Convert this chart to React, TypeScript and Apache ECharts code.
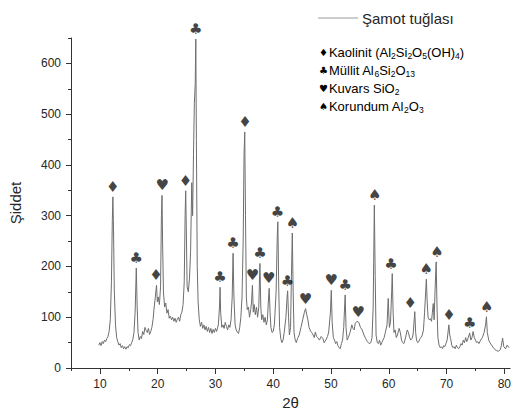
import React, { useEffect, useRef } from "react";
import * as echarts from "echarts";

// XRD pattern of Şamot tuğlası: [2θ, intensity]
const pattern: [number, number][] = [
  [9.8, 45], [10.0, 50], [10.2, 44], [10.4, 52], [10.6, 48], [10.8, 55], [11.0, 52], [11.2, 58], [11.4, 62], [11.6, 72],
  [11.8, 95], [12.0, 170], [12.15, 290], [12.25, 337], [12.35, 280], [12.5, 150], [12.7, 85], [12.9, 60], [13.1, 52],
  [13.3, 45], [13.5, 48], [13.7, 40], [13.9, 44], [14.1, 38], [14.3, 42], [14.5, 37], [14.7, 42], [14.9, 40], [15.1, 46],
  [15.3, 44], [15.5, 50], [15.7, 56], [15.9, 70], [16.1, 110], [16.3, 197], [16.45, 120], [16.6, 70], [16.8, 55],
  [17.0, 62], [17.2, 58], [17.4, 72], [17.6, 66], [17.8, 80], [18.0, 74], [18.2, 70], [18.4, 78], [18.6, 66], [18.8, 72],
  [19.0, 80], [19.2, 95], [19.4, 120], [19.6, 140], [19.8, 163], [19.95, 130], [20.1, 140], [20.3, 125], [20.5, 160],
  [20.65, 300], [20.75, 340], [20.85, 250], [21.0, 150], [21.2, 120], [21.4, 128], [21.6, 108], [21.8, 115], [22.0, 98],
  [22.2, 102], [22.4, 95], [22.6, 100], [22.8, 92], [23.0, 98], [23.2, 90], [23.4, 96], [23.6, 100], [23.8, 92],
  [24.0, 105], [24.2, 110], [24.4, 125], [24.6, 170], [24.75, 300], [24.85, 349], [24.95, 280], [25.1, 160], [25.3, 150],
  [25.5, 175], [25.7, 230], [25.9, 365], [26.05, 300], [26.2, 420], [26.35, 521], [26.5, 560], [26.6, 648], [26.7, 450],
  [26.85, 200], [27.0, 130], [27.2, 95], [27.4, 82], [27.6, 90], [27.8, 78], [28.0, 85], [28.2, 75], [28.4, 82],
  [28.6, 72], [28.8, 80], [29.0, 70], [29.2, 78], [29.4, 68], [29.6, 76], [29.8, 70], [30.0, 78], [30.2, 72], [30.5, 85],
  [30.7, 120], [30.8, 159], [30.9, 110], [31.1, 80], [31.3, 85], [31.5, 78], [31.7, 90], [31.9, 82], [32.1, 75],
  [32.3, 85], [32.5, 80], [32.7, 95], [32.9, 140], [33.05, 226], [33.2, 140], [33.4, 85], [33.6, 75], [33.8, 70],
  [34.0, 68], [34.2, 80], [34.4, 100], [34.6, 140], [34.8, 250], [34.95, 420], [35.07, 465], [35.2, 300], [35.35, 140],
  [35.5, 115], [35.7, 120], [35.9, 100], [36.1, 115], [36.25, 130], [36.4, 163], [36.55, 110], [36.7, 125], [36.9, 105],
  [37.1, 120], [37.3, 100], [37.5, 120], [37.7, 206], [37.85, 120], [38.0, 95], [38.2, 105], [38.4, 90], [38.6, 100],
  [38.8, 85], [39.0, 95], [39.15, 130], [39.3, 157], [39.45, 110], [39.6, 80], [39.8, 70], [40.0, 72], [40.2, 85],
  [40.5, 150], [40.7, 260], [40.8, 288], [40.95, 160], [41.1, 80], [41.3, 58], [41.5, 50], [41.7, 55], [41.9, 70],
  [42.2, 100], [42.4, 140], [42.5, 152], [42.65, 100], [42.8, 65], [43.0, 80], [43.15, 180], [43.3, 266], [43.45, 150],
  [43.6, 70], [43.8, 55], [44.0, 50], [44.2, 58], [44.5, 65], [44.8, 80], [45.1, 95], [45.4, 110], [45.6, 117],
  [45.8, 105], [46.0, 95], [46.2, 80], [46.5, 72], [46.8, 68], [47.1, 60], [47.3, 71], [47.5, 62], [47.7, 60], [48.0, 55],
  [48.3, 62], [48.6, 58], [48.8, 50], [49.1, 55], [49.4, 62], [49.6, 71], [49.9, 110], [50.05, 153], [50.2, 90],
  [50.4, 60], [50.6, 55], [50.8, 48], [51.0, 52], [51.2, 44], [51.4, 40], [51.6, 38], [51.8, 48], [52.0, 55], [52.2, 80],
  [52.45, 144], [52.6, 80], [52.8, 55], [53.0, 60], [53.3, 70], [53.6, 85], [53.8, 78], [54.0, 75], [54.2, 88],
  [54.5, 92], [54.8, 90], [55.1, 80], [55.4, 75], [55.7, 65], [56.0, 58], [56.3, 52], [56.6, 48], [56.9, 50], [57.1, 60],
  [57.3, 120], [57.5, 321], [57.65, 180], [57.8, 65], [58.0, 50], [58.2, 48], [58.4, 55], [58.6, 45], [58.8, 50],
  [59.0, 55], [59.2, 60], [59.4, 70], [59.7, 85], [59.9, 137], [60.1, 80], [60.3, 90], [60.5, 150], [60.6, 186],
  [60.75, 110], [60.9, 70], [61.1, 75], [61.3, 60], [61.5, 65], [61.8, 78], [62.0, 70], [62.2, 55], [62.4, 50],
  [62.6, 48], [62.8, 55], [63.0, 65], [63.2, 75], [63.4, 70], [63.6, 60], [63.8, 55], [64.0, 58], [64.2, 65],
  [64.5, 111], [64.65, 70], [64.8, 55], [65.0, 50], [65.2, 52], [65.4, 58], [65.6, 60], [65.8, 65], [66.0, 75],
  [66.2, 110], [66.5, 175], [66.65, 130], [66.8, 100], [67.0, 95], [67.2, 97], [67.4, 92], [67.55, 110], [67.7, 127],
  [67.85, 95], [68.0, 150], [68.2, 209], [68.35, 120], [68.5, 60], [68.7, 45], [68.9, 40], [69.1, 42], [69.3, 38],
  [69.5, 44], [69.7, 42], [69.9, 48], [70.1, 55], [70.4, 85], [70.55, 65], [70.7, 58], [70.9, 45], [71.1, 40],
  [71.3, 42], [71.5, 38], [71.7, 45], [71.9, 40], [72.1, 38], [72.3, 42], [72.5, 48], [72.7, 45], [72.9, 55],
  [73.1, 50], [73.3, 60], [73.5, 52], [73.7, 58], [74.0, 69], [74.2, 55], [74.4, 60], [74.6, 72], [74.8, 60],
  [75.0, 55], [75.2, 50], [75.4, 52], [75.6, 48], [75.9, 55], [76.2, 60], [76.5, 70], [76.75, 85], [76.9, 101],
  [77.05, 70], [77.3, 55], [77.5, 50], [77.8, 45], [78.1, 40], [78.4, 36], [78.7, 34], [79.0, 33], [79.3, 36],
  [79.5, 45], [79.7, 59], [79.9, 42], [80.2, 38], [80.5, 45], [80.8, 40],
];

// Peak markers per phase: [2θ, peak intensity]
const kaolinitPeaks: [number, number][] = [[12.2, 337], [19.7, 163], [24.8, 349], [35.1, 465], [63.7, 108], [70.4, 85]];
const mullitPeaks: [number, number][] = [[16.3, 197], [26.6, 648], [30.8, 159], [33.05, 226], [37.7, 206], [40.75, 288], [42.45, 152], [52.45, 144], [60.4, 186], [74.0, 69]];
const kuvarsPeaks: [number, number][] = [[20.8, 340], [36.4, 163], [39.2, 157], [45.6, 117], [50.05, 153], [54.7, 90]];
const korundumPeaks: [number, number][] = [[43.35, 266], [57.55, 321], [66.5, 175], [68.35, 209], [76.95, 101]];

const xLabels = [10, 20, 30, 40, 50, 60, 70, 80];
const xMinor = [5, 15, 25, 35, 45, 55, 65, 75];
const yLabels = [0, 100, 200, 300, 400, 500, 600];
const yMinor = [50, 150, 250, 350, 450, 550, 650];

const FONT = "'Liberation Sans', Arial, sans-serif";
const TXT = "#262626";
const SYM_FONT = "'DejaVu Sans', sans-serif";

function markerSeries(name: string, data: [number, number][], glyph: string) {
  return {
    name,
    type: "scatter",
    data,
    symbolSize: 1,
    clip: false,
    itemStyle: { color: "rgba(0,0,0,0)" },
    silent: true,
    labelLayout: { hideOverlap: false },
    label: {
      show: true,
      position: "top",
      distance: 2,
      formatter: glyph,
      fontSize: 15,
      color: "#111",
      fontFamily: SYM_FONT,
    },
    z: 5,
  };
}

const sub = { fontSize: 8.5, fontFamily: FONT, color: TXT, verticalAlign: "bottom", lineHeight: 16 };
const nrm = { fontSize: 13, fontFamily: FONT, color: TXT, lineHeight: 16 };
const sym = { fontSize: 10, fontFamily: SYM_FONT, color: "#111", lineHeight: 16, padding: [0, 1, 0, 0] };
const legendRich = { n: nrm, b: sub, s: sym };

const legendEntries = [
  "{s|♦}{n|Kaolinit (Al}{b|2}{n|Si}{b|2}{n|O}{b|5}{n|(OH)}{b|4}{n|)}",
  "{s|♣}{n|Müllit Al}{b|6}{n|Si}{b|2}{n|O}{b|13}",
  "{s|♥}{n|Kuvars SiO}{b|2}",
  "{s|♠}{n|Korundum Al}{b|2}{n|O}{b|3}",
];

export default function App() {
  const ref = useRef<HTMLDivElement>(null);
  useEffect(() => {
    if (!ref.current) return;
    const chart = echarts.init(ref.current, null, { renderer: "svg" });
    const grid = { left: 70, right: 0, top: 38, bottom: 51 };
    chart.setOption({
      animation: false,
      backgroundColor: "#ffffff",
      grid,
      xAxis: [
        {
          type: "value",
          min: 5,
          max: 81,
          name: "2θ",
          nameLocation: "middle",
          nameGap: 27,
          nameTextStyle: { fontFamily: FONT, fontSize: 15, color: TXT },
          axisLine: { show: true, onZero: false, lineStyle: { color: "#333", width: 1 } },
          axisTick: { show: true, inside: false, length: 6, customValues: xLabels, lineStyle: { color: "#333" } },
          axisLabel: { customValues: xLabels, margin: 10, fontFamily: FONT, fontSize: 12, color: TXT },
          splitLine: { show: false },
        },
        {
          type: "value",
          min: 5,
          max: 81,
          position: "bottom",
          axisLine: { show: false, onZero: false },
          axisTick: { show: true, inside: false, length: 3, customValues: xMinor, lineStyle: { color: "#333" } },
          axisLabel: { show: false },
          splitLine: { show: false },
        },
      ],
      yAxis: [
        {
          type: "value",
          min: 0,
          max: 650,
          name: "Şiddet",
          nameLocation: "middle",
          nameGap: 48,
          nameTextStyle: { fontFamily: FONT, fontSize: 15, color: TXT },
          axisLine: { show: true, onZero: false, lineStyle: { color: "#333", width: 1 } },
          axisTick: { show: true, inside: false, length: 5, customValues: yLabels, lineStyle: { color: "#333" } },
          axisLabel: { customValues: yLabels, margin: 10, fontFamily: FONT, fontSize: 12, color: TXT },
          splitLine: { show: false },
        },
        {
          type: "value",
          min: 0,
          max: 650,
          position: "left",
          axisLine: { show: false, onZero: false },
          axisTick: { show: true, inside: false, length: 3, customValues: yMinor, lineStyle: { color: "#333" } },
          axisLabel: { show: false },
          splitLine: { show: false },
        },
      ],
      series: [
        {
          name: "Şamot tuğlası",
          type: "line",
          data: pattern,
          showSymbol: false,
          symbol: "none",
          lineStyle: { color: "#6e6e6e", width: 1 },
          z: 2,
        },
        markerSeries("Kaolinit", kaolinitPeaks, "♦"),
        markerSeries("Müllit", mullitPeaks, "♣"),
        markerSeries("Kuvars", kuvarsPeaks, "♥"),
        markerSeries("Korundum", korundumPeaks, "♠"),
      ],
      graphic: [
        {
          type: "line",
          shape: { x1: 318, y1: 18, x2: 358, y2: 18 },
          style: { stroke: "#9a9a9a", lineWidth: 1 },
        },
        {
          type: "text",
          x: 362,
          y: 18,
          style: { text: "Şamot tuğlası", fontFamily: FONT, fontSize: 15, fill: TXT, verticalAlign: "middle" },
        },
        ...legendEntries.map((t, i) => ({
          type: "text",
          x: 319,
          y: 52 + i * 18,
          style: { text: t, rich: legendRich, verticalAlign: "middle", fontFamily: FONT },
        })),
      ],
    });
    return () => chart.dispose();
  }, []);
  return <div ref={ref} style={{ position: "fixed", left: 0, top: 0, width: 514, height: 419 }} />;
}
